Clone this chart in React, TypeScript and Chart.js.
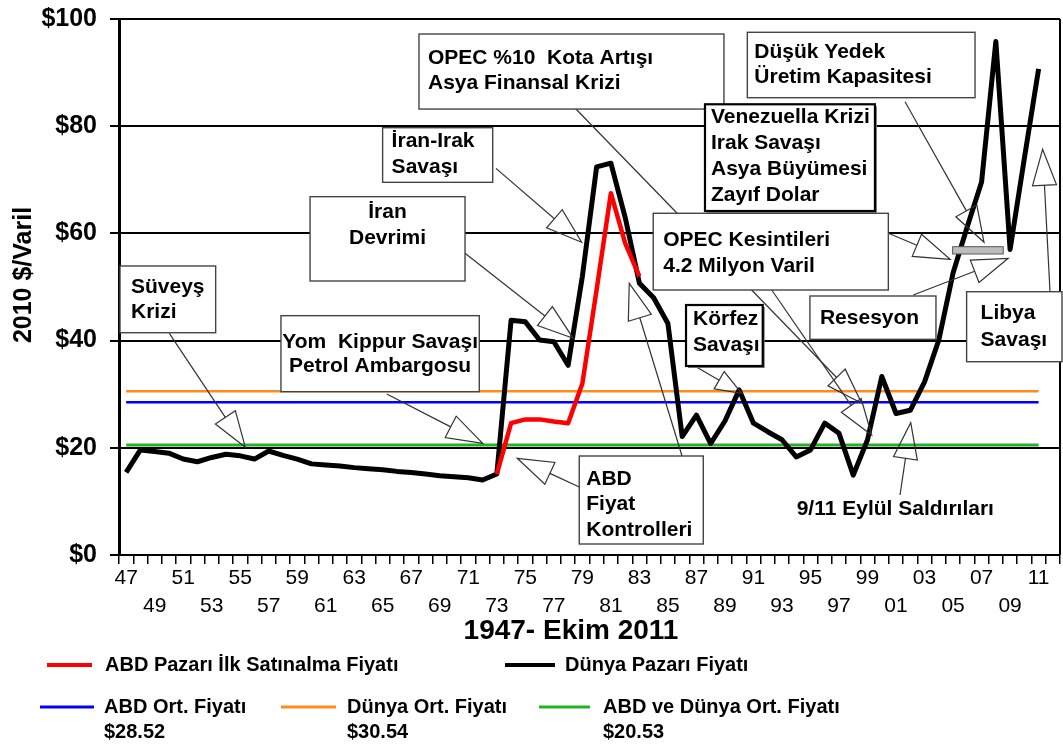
import React, { useEffect, useRef } from 'react';
import { Chart, registerables } from 'chart.js';

Chart.register(...registerables);

// ---------- data ----------
const years = [
  '1947', '1948', '1949', '1950', '1951', '1952', '1953', '1954', '1955', '1956',
  '1957', '1958', '1959', '1960', '1961', '1962', '1963', '1964', '1965', '1966',
  '1967', '1968', '1969', '1970', '1971', '1972', '1973', '1974', '1975', '1976',
  '1977', '1978', '1979', '1980', '1981', '1982', '1983', '1984', '1985', '1986',
  '1987', '1988', '1989', '1990', '1991', '1992', '1993', '1994', '1995', '1996',
  '1997', '1998', '1999', '2000', '2001', '2002', '2003', '2004', '2005', '2006',
  '2007', '2008', '2009', '2010', '2011', '2012',
];

// Dünya Pazarı Fiyatı (2010 $/varil)
const worldPrice = [
  15.4, 19.6, 19.3, 19.0, 17.9, 17.4, 18.2, 18.8, 18.5, 17.9,
  19.4, 18.6, 17.9, 17.0, 16.8, 16.6, 16.3, 16.1, 15.9, 15.6,
  15.4, 15.1, 14.8, 14.6, 14.4, 14.0, 15.1, 43.8, 43.5, 40.1,
  39.8, 35.4, 52.0, 72.4, 73.1, 63.0, 50.7, 48.0, 43.2, 22.1,
  26.1, 20.8, 25.0, 30.8, 24.6, 23.0, 21.5, 18.3, 19.6, 24.6,
  22.7, 14.9, 21.5, 33.3, 26.4, 27.0, 32.3, 40.1, 52.6, 61.3,
  69.6, 95.8, 57.0, 74.0, 90.7, null,
];

// ABD Pazarı İlk Satınalma Fiyatı
const usPrice = [
  null, null, null, null, null, null, null, null, null, null,
  null, null, null, null, null, null, null, null, null, null,
  null, null, null, null, null, null, 15.1, 24.6, 25.3, 25.3,
  24.9, 24.6, 32.0, 49.5, 67.5, 58.2, 52.0, null, null, null,
  null, null, null, null, null, null, null, null, null, null,
  null, null, null, null, null, null, null, null, null, null,
  null, null, null, null, null, null,
];

const usAvg = 28.52;
const worldAvg = 30.54;
const bothAvg = 20.53;

const topRowTicks = ['47', '51', '55', '59', '63', '67', '71', '75', '79', '83', '87', '91', '95', '99', '03', '07', '11'];
const bottomRowTicks = ['49', '53', '57', '61', '65', '69', '73', '77', '81', '85', '89', '93', '97', '01', '05', '09'];
const yTicks = [0, 20, 40, 60, 80, 100];

// annotation boxes, positioned in (year, $) units
const boxes = [
  { x0: 1967.54, x1: 1988.93, top: 97.2, bottom: 83.2, lines: ['OPEC %10  Kota Artışı', 'Asya Finansal Krizi'], align: 'left', pad: 9, first: 24, gap: 25 },
  { x0: 1964.99, x1: 1972.71, top: 79.72, bottom: 69.53, lines: ['İran-Irak', 'Savaşı'], align: 'left', pad: 9, first: 14, gap: 26 },
  { x0: 1959.9, x1: 1970.77, top: 66.85, bottom: 51.12, lines: ['İran', 'Devrimi'], align: 'center', pad: 0, first: 16, gap: 26 },
  { x0: 1946.57, x1: 1953.28, top: 53.92, bottom: 41.47, lines: ['Süveyş', 'Krizi'], align: 'left', pad: 11, first: 21, gap: 25 },
  { x0: 1957.86, x1: 1971.77, top: 44.65, bottom: 30.47, lines: ['Yom  Kippur Savaşı', 'Petrol Ambargosu'], align: 'center', pad: 0, first: 27, gap: 24 },
  { x0: 1978.78, x1: 1987.48, top: 18.47, bottom: 2.05, lines: ['ABD', 'Fiyat', 'Kontrolleri'], align: 'left', pad: 7, first: 23, gap: 25.5 },
  { x0: 1986.27, x1: 1991.65, top: 46.64, bottom: 35.26, lines: ['Körfez', 'Savaşı'], align: 'left', pad: 7, first: 14, gap: 26, strong: true },
  { x0: 1994.96, x1: 2003.8, top: 48.32, bottom: 40.24, lines: ['Resesyon'], align: 'left', pad: 10, first: 22, gap: 26 },
  { x0: 1983.97, x1: 2000.46, top: 63.75, bottom: 49.44, lines: ['OPEC Kesintileri', '4.2 Milyon Varil'], align: 'left', pad: 10, first: 27, gap: 25.7 },
  { x0: 1987.6, x1: 1999.52, top: 84.09, bottom: 64.18, lines: ['Venezuella Krizi', 'Irak Savaşı', 'Asya Büyümesi', 'Zayıf Dolar'], align: 'left', pad: 6, first: 13, gap: 26, strong: true },
  { x0: 1990.57, x1: 2006.54, top: 97.52, bottom: 85.32, lines: ['Düşük Yedek', 'Üretim Kapasitesi'], align: 'left', pad: 7, first: 19.5, gap: 25.6 },
  { x0: 2005.95, x1: 2012.64, top: 49.12, bottom: 36.06, lines: ['Libya', 'Savaşı'], align: 'left', pad: 14, first: 21.5, gap: 26.7 },
];

const freeLabels = [{ x: 1994.03, y: 8.53, text: '9/11 Eylül Saldırıları' }];

// arrows: from (year, $) to tip (year, $)
const arrows = [
  { fx: 1950.03, fy: 41.36, tx: 1955.36, ty: 20.09 },
  { fx: 1965.28, fy: 30.04, tx: 1972.01, ty: 20.84 },
  { fx: 1970.77, fy: 56.29, tx: 1978.36, ty: 40.43 },
  { fx: 1972.94, fy: 72.14, tx: 1978.95, ty: 58.34 },
  { fx: 1978.78, fy: 12.69, tx: 1974.43, ty: 18.04 },
  { fx: 1985.99, fy: 18.47, tx: 1982.29, ty: 50.69 },
  { fx: 1978.48, fy: 83.4, tx: 1998.59, ty: 28.3 },
  { fx: 1992.28, fy: 49.44, tx: 1999.29, ty: 22.39 },
  { fx: 1986.76, fy: 35.45, tx: 1990.17, ty: 30.17, len: 26, hw: 10 },
  { fx: 1997.42, fy: 63.43, tx: 2004.79, ty: 55.17 },
  { fx: 2001.63, fy: 84.57, tx: 2007.17, ty: 58.34 },
  { fx: 2002.21, fy: 48.51, tx: 2008.87, ty: 55.35 },
  { fx: 2011.8, fy: 49.12, tx: 2011.28, ty: 75.69 },
  { fx: 2001.28, fy: 11.19, tx: 2002.03, ty: 24.68 },
];

const grayBar = { x0: 2004.97, x1: 2008.52, top: 57.52, bottom: 56.16 };

const FONT = '"Liberation Sans", Arial, Helvetica, sans-serif';
const NARROW = '"Liberation Sans Narrow", "Arial Narrow", "Liberation Sans", Arial, sans-serif';

const seriesLabels = {
  us: 'ABD Pazarı İlk Satınalma Fiyatı',
  world: 'Dünya Pazarı Fiyatı',
  usAvg: 'ABD Ort. Fiyatı',
  worldAvg: 'Dünya Ort. Fiyatı',
  bothAvg: 'ABD ve Dünya Ort. Fiyatı',
};

function drawArrow(ctx: CanvasRenderingContext2D, x1: number, y1: number, x2: number, y2: number, len = 36, hw = 12) {
  const dx = x2 - x1;
  const dy = y2 - y1;
  const d = Math.hypot(dx, dy);
  const ux = dx / d;
  const uy = dy / d;
  const bx = x2 - ux * len;
  const by = y2 - uy * len;
  ctx.beginPath();
  ctx.moveTo(x1, y1);
  ctx.lineTo(bx, by);
  ctx.stroke();
  ctx.beginPath();
  ctx.moveTo(x2, y2);
  ctx.lineTo(bx - uy * hw, by + ux * hw);
  ctx.lineTo(bx + uy * hw, by - ux * hw);
  ctx.closePath();
  ctx.stroke();
}

const overlayPlugin = {
  id: 'overlay',
  afterDatasetsDraw(chart: any) {
    const { ctx, chartArea } = chart;
    const xs = chart.scales.x;
    const ys = chart.scales.y;
    const px = (yr: number) => xs.getPixelForValue(yr - 1947);
    const py = (v: number) => ys.getPixelForValue(v);
    ctx.save();

    // right border of plot
    ctx.strokeStyle = '#000';
    ctx.lineWidth = 2;
    ctx.beginPath();
    ctx.moveTo(chartArea.right, chartArea.top);
    ctx.lineTo(chartArea.right, chartArea.bottom);
    ctx.stroke();

    // arrows
    ctx.strokeStyle = '#333';
    ctx.lineWidth = 1.2;
    arrows.forEach((a: any) => {
      drawArrow(ctx, px(a.fx), py(a.fy), px(a.tx), py(a.ty), a.len ?? 36, a.hw ?? 12);
    });

    // boxes
    ctx.font = `bold 21px ${FONT}`;
    ctx.textBaseline = 'middle';
    boxes.forEach((b: any) => {
      const l = px(b.x0);
      const r = px(b.x1);
      const t = py(b.top);
      const bt = py(b.bottom);
      if (b.strong) {
        ctx.fillStyle = '#777';
        ctx.fillRect(l + 2, t + 2, r - l, bt - t);
      }
      ctx.fillStyle = '#fff';
      ctx.fillRect(l, t, r - l, bt - t);
      ctx.strokeStyle = b.strong ? '#000' : '#444';
      ctx.lineWidth = b.strong ? 2.2 : 1.4;
      ctx.strokeRect(l, t, r - l, bt - t);
      ctx.fillStyle = '#000';
      b.lines.forEach((line: string, i: number) => {
        const y = t + b.first + i * b.gap;
        if (b.align === 'center') {
          ctx.textAlign = 'center';
          ctx.fillText(line, (l + r) / 2, y);
        } else {
          ctx.textAlign = 'left';
          ctx.fillText(line, l + b.pad, y);
        }
      });
    });

    freeLabels.forEach((f) => {
      ctx.textAlign = 'left';
      ctx.fillStyle = '#000';
      ctx.fillText(f.text, px(f.x), py(f.y));
    });

    // gray bar
    ctx.fillStyle = '#bdbdbd';
    ctx.strokeStyle = '#555';
    ctx.lineWidth = 1;
    const gl = px(grayBar.x0);
    const gr = px(grayBar.x1);
    const gt = py(grayBar.top);
    const gb = py(grayBar.bottom);
    ctx.fillRect(gl, gt, gr - gl, gb - gt);
    ctx.strokeRect(gl, gt, gr - gl, gb - gt);

    ctx.restore();
  },
  afterDraw(chart: any) {
    const { ctx, chartArea } = chart;
    ctx.save();
    ctx.fillStyle = '#000';
    ctx.textBaseline = 'middle';

    // y-axis title
    ctx.save();
    ctx.translate(24, 275);
    ctx.rotate(-Math.PI / 2);
    ctx.textAlign = 'center';
    ctx.font = `bold 25px ${FONT}`;
    ctx.fillText('2010 $/Varil', 0, 0);
    ctx.restore();

    // x-axis title
    ctx.font = `bold 28px ${FONT}`;
    ctx.textAlign = 'center';
    ctx.fillText('1947- Ekim 2011', 571, chartArea.bottom + 76);

    // legend
    const ds = chart.data.datasets;
    const items = [
      { d: ds[0], lx0: 47, lx1: 92, tx: 105, y: 665 },
      { d: ds[1], lx0: 505, lx1: 555, tx: 565, y: 665 },
      { d: ds[2], lx0: 40, lx1: 94, tx: 104, y: 707, val: usAvg },
      { d: ds[3], lx0: 281, lx1: 336, tx: 347, y: 707, val: worldAvg },
      { d: ds[4], lx0: 539, lx1: 590, tx: 603, y: 707, val: bothAvg },
    ];
    ctx.font = `bold 20px ${FONT}`;
    ctx.textAlign = 'left';
    items.forEach((it: any) => {
      ctx.strokeStyle = it.d.borderColor;
      ctx.lineWidth = it.val === undefined ? 4 : 3;
      ctx.beginPath();
      ctx.moveTo(it.lx0, it.y);
      ctx.lineTo(it.lx1, it.y);
      ctx.stroke();
      ctx.fillStyle = '#000';
      ctx.fillText(it.d.label, it.tx, it.y);
      if (it.val !== undefined) {
        ctx.fillText('$' + it.val.toFixed(2), it.tx, it.y + 25);
      }
    });
    ctx.restore();
  },
};

export default function App() {
  const canvasRef = useRef<HTMLCanvasElement | null>(null);

  useEffect(() => {
    if (!canvasRef.current) return;
    const avgLine = (v: number) => worldPrice.map((p) => (p === null ? null : v));
    const chart = new Chart(canvasRef.current, {
      type: 'line',
      data: {
        labels: years,
        datasets: [
          { label: seriesLabels.us, data: usPrice, borderColor: '#ff0000', borderWidth: 4.5, pointRadius: 0, borderJoinStyle: 'round', tension: 0 },
          { label: seriesLabels.world, data: worldPrice, borderColor: '#000000', borderWidth: 5, pointRadius: 0, borderJoinStyle: 'round', tension: 0 },
          { label: seriesLabels.usAvg, data: avgLine(usAvg), borderColor: '#0000ff', borderWidth: 2.5, pointRadius: 0 },
          { label: seriesLabels.worldAvg, data: avgLine(worldAvg), borderColor: '#ff8c1a', borderWidth: 2.5, pointRadius: 0 },
          { label: seriesLabels.bothAvg, data: avgLine(bothAvg), borderColor: '#22b322', borderWidth: 3, pointRadius: 0 },
        ],
      },
      options: {
        animation: false,
        responsive: true,
        maintainAspectRatio: false,
        devicePixelRatio: 1,
        layout: { padding: { top: 19, right: 3, left: 0, bottom: 0 } },
        plugins: { legend: { display: false }, tooltip: { enabled: false } },
        scales: {
          x: {
            type: 'category',
            offset: true,
            afterFit: (s: any) => { s.height = 189; s.paddingLeft = 0; s.paddingRight = 0; },
            grid: { display: true, drawOnChartArea: false, offset: true, tickLength: 9, color: '#000', lineWidth: 1.5 },
            border: { display: true, color: '#000', width: 2 },
            ticks: {
              autoSkip: false,
              maxRotation: 0,
              minRotation: 0,
              padding: 0,
              color: '#000',
              font: { family: NARROW, size: 21, lineHeight: '28px' },
              callback: (_v: any, i: number) => {
                const s = years[i].slice(2);
                if (topRowTicks.includes(s)) return [s, ''];
                if (bottomRowTicks.includes(s)) return ['', s];
                return '';
              },
            },
          },
          y: {
            min: 0,
            max: 100,
            afterFit: (s: any) => { s.width = 119; s.paddingTop = 0; s.paddingBottom = 0; },
            afterBuildTicks: (s: any) => { s.ticks = yTicks.map((v) => ({ value: v })); },
            grid: { color: '#000', lineWidth: 2, tickLength: 9 },
            border: { display: true, color: '#000', width: 3 },
            ticks: {
              padding: 13,
              color: '#000',
              font: { family: FONT, size: 25, weight: 'bold' },
              callback: (v: any) => '$' + v,
            },
          },
        },
      },
      plugins: [overlayPlugin],
    } as any);
    return () => chart.destroy();
  }, []);

  return (
    <div style={{ position: 'fixed', left: 0, top: 0, width: 1063, height: 744, background: '#fff' }}>
      <canvas ref={canvasRef} style={{ display: 'block' }} />
    </div>
  );
}
